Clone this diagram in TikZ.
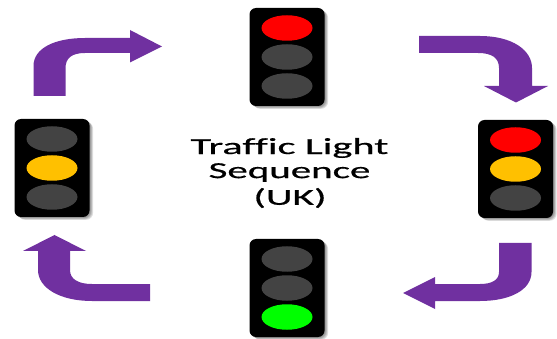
\documentclass[tikz,border=0pt]{standalone}
\usepackage{fontspec}
\setmainfont{Carlito}[Ligatures=NoCommon,FakeBold=0.5,BoldFont={Carlito}]
\newfontfamily\captionfont{Carlito}[Ligatures=NoCommon,FakeBold=0.5]
\definecolor{arrowpurple}{HTML}{7030A0}
\definecolor{lampoff}{HTML}{434343}
\definecolor{lampred}{HTML}{FF0000}
\definecolor{lampamber}{HTML}{FFC000}
\definecolor{lampgreen}{HTML}{00FF00}
\tikzset{
  housing/.style={fill=black,draw=none,rounded corners=6.5pt,minimum width=75pt,minimum height=98pt,inner sep=0pt},
  housingshadow/.style={fill=black,draw=none,fill opacity=0.13,rounded corners=7pt,minimum width=75pt,minimum height=98pt,inner sep=0pt},
  lamp/.style={ellipse,draw=none,minimum width=51pt,minimum height=25.5pt,inner sep=0pt},
  bentarrow/.style={fill=arrowpurple,draw=none},
  caption/.style={align=center,font=\captionfont\fontsize{23pt}{25pt}\selectfont,text=black,inner sep=0pt}
}
\usetikzlibrary{shapes.geometric}
\newcommand{\trafficlight}[6]{%
  \foreach \d in {1,2,3,4}{\node[housingshadow] at (#2+\d*0.9,#3+\d*0.7) {};}
  \node[housing] (#1) at (#2,#3) {};
  \node[lamp,fill=#4] (#1a) at (#2,#3-29) {};
  \node[lamp,fill=#5] (#1b) at (#2,#3) {};
  \node[lamp,fill=#6] (#1c) at (#2,#3+29) {};
}
\begin{document}
\begin{tikzpicture}[x=1pt,y=-1pt]
\useasboundingbox (0,0) rectangle (557,339);
\fill[white] (0,0) rectangle (557,339);
\trafficlight{top}{287}{57}{lampred}{lampoff}{lampoff}
\trafficlight{left}{52}{168}{lampoff}{lampamber}{lampoff}
\trafficlight{right}{515.5}{169}{lampred}{lampamber}{lampoff}
\trafficlight{bottom}{287}{288}{lampoff}{lampoff}{lampgreen}
% top-left arrow
\fill[bentarrow] (33.5,96) -- (33.5,66) .. controls (33.5,48) and (55,38) .. (85,38) -- (130,38) -- (130,30) -- (162,46.5) -- (130,62.5) -- (130,53) -- (85,53) .. controls (72,53) and (65.5,58) .. (65.5,68) -- (65.5,96) -- cycle;
% top-right arrow
\fill[bentarrow] (419,36) -- (480,36) .. controls (512,36) and (532,50) .. (532,68) -- (532,86) -- (548,86) -- (516,102.5) -- (484,86) -- (499,86) -- (499,68) .. controls (499,58) and (492,53) .. (478,53) -- (419,53) -- cycle;
% bottom-right arrow
\fill[bentarrow] (531.5,243) -- (531.5,272) .. controls (531.5,290) and (510,301) .. (480,301) -- (435,301) -- (435,309) -- (403,293) -- (435,277) -- (435,284) -- (480,284) .. controls (492,284) and (499,280) .. (499,272) -- (499,243) -- cycle;
% bottom-left arrow
\fill[bentarrow] (150,301) -- (92,301) .. controls (60,301) and (38,288) .. (38,270) -- (38,251) -- (23,251) -- (54.5,235) -- (86,251) -- (70,251) -- (70,270) .. controls (70,279) and (78,284) .. (92,284) -- (150,284) -- cycle;
\node[caption] (line1) at (289.5,148) {\scalebox{1.84}[1]{Traffic Light}};
\node[caption] (line2) at (289.5,172.5) {\scalebox{1.78}[1]{Sequence}};
\node[caption] (line3) at (290,198) {\scalebox{1.8}[1]{(UK)}};
\end{tikzpicture}
\end{document}
